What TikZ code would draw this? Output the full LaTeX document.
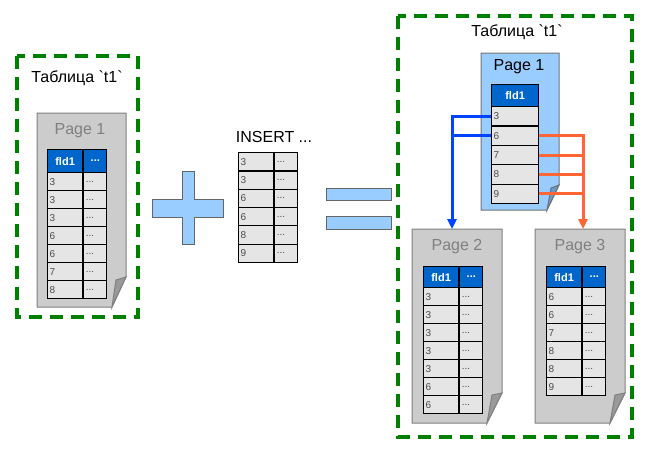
\documentclass[tikz,border=0pt]{standalone}
\usepackage{fontspec}
\setmainfont{Liberation Sans}[Ligatures=TeXOff]
\usetikzlibrary{arrows.meta}
\definecolor{boxgreen}{RGB}{0,128,0}
\definecolor{hdrblue}{RGB}{0,102,204}
\definecolor{pageblue}{RGB}{153,204,255}
\definecolor{foldblue}{RGB}{102,153,204}
\definecolor{arrblue}{RGB}{0,68,255}
\definecolor{arrorange}{RGB}{255,102,51}

\begin{document}
\begin{tikzpicture}[x=1pt, y=-1pt,
		tablebox/.style={draw=boxgreen, line width=3.5pt, dash pattern=on 13pt off 8pt},
		sheet/.style={draw=gray, fill=black!20, line width=1pt},
		bluesheet/.style={draw=black!55, fill=pageblue, line width=1pt},
		fold/.style={draw=gray, fill=black!40, line width=1pt},
		bluefold/.style={draw=black!55, fill=foldblue, line width=1pt},
		sign/.style={draw=black!60, fill=pageblue, line width=1pt},
		title/.style={font=\fontsize{16}{16}\selectfont},
		pagetitle/.style={title, text=black!50},
		cell/.style={draw=black, line width=1.2pt, fill=black!10, text=black!70, inner xsep=2pt, inner ysep=0pt,
			minimum height=18pt, anchor=north west, align=left, font=\fontsize{10}{10}\selectfont},
		hcell/.style={cell, fill=hdrblue, text=white, align=center, minimum height=22pt, font=\fontsize{11}{11}\selectfont\bfseries},
		colA/.style={text width=31pt},
		colB/.style={text width=19pt},
		wire/.style={line width=3pt},
		arrow/.style={wire, -{Triangle[width=9pt, length=10pt]}}]
	\useasboundingbox (0,0) rectangle (653,451);
	
	% Left table
	\draw[tablebox] (17,56) rectangle (138,317);
	\node[title] (ltitle) at (77,78) {Таблица `t1`};
	\draw[sheet] (37,113) -- (126,113) -- (126,277) -- (112,307) -- (37,307) -- cycle;
	\draw[fold] (126,277) -- (116,280) -- (112,307) -- cycle;
	\node[pagetitle] (lpage) at (80,131) {Page 1};
	\node[hcell, colA, minimum height=23pt] (lh1) at (47,149) {fld1};
	\node[hcell, colB, minimum height=23pt] (lh2) at (lh1.north east) {...};
	\foreach \v [count=\i] in {3,3,3,6,6,7,8} {
		\node[cell, colA] (l\i) at (47,{172+18*(\i-1)}) {\v};
		\node[cell, colB] (lx\i) at (l\i.north east) {...};
	}
	
	% Plus
	\draw[sign] (152,199) -- (182,199) -- (182,171) -- (194,171) -- (194,199) -- (223,199) -- (223,217)
		-- (194,217) -- (194,244) -- (182,244) -- (182,217) -- (152,217) -- cycle;
	
	% Inserted rows
	\node[title] (ins) at (274,137) {INSERT ...};
	\foreach \v [count=\i] in {3,3,6,6,8,9} {
		\node[cell, colA, minimum height=18.3pt] (n\i) at (238,{152+18.3*(\i-1)}) {\v};
		\node[cell, colB, minimum height=18.3pt] (nx\i) at (n\i.north east) {...};
	}
	
	% Equals
	\draw[sign] (326,188) rectangle (391,200);
	\draw[sign] (326,216) rectangle (391,229);
	
	% Right table
	\draw[tablebox] (398,16) rectangle (632,437);
	\node[title] (rtitle) at (517,32) {Таблица `t1`};
	
	% Page 1 (split)
	\draw[bluesheet] (481,53) -- (559,53) -- (559,185) -- (547,210) -- (481,210) -- cycle;
	\draw[bluefold] (559,185) -- (551,188) -- (547,210) -- cycle;
	\node[title] (rpage) at (519,67) {Page 1};
	\node[hcell, text width=43pt] (rh) at (491,84) {fld1};
	\foreach \v [count=\i] in {3,6,7,8,9}
		\node[cell, text width=43pt, minimum height=19.4pt] (r\i) at (491,{106+19.4*(\i-1)}) {\v};
	
	% Page 2
	\draw[sheet] (412,229) -- (502,229) -- (502,393) -- (487,423) -- (412,423) -- cycle;
	\draw[fold] (502,393) -- (492,395) -- (487,423) -- cycle;
	\node[pagetitle] (page2) at (457,247) {Page 2};
	\node[hcell, colA, minimum height=21pt] (ah1) at (423,266) {fld1};
	\node[hcell, colB, minimum height=21pt] (ah2) at (ah1.north east) {...};
	\foreach \v [count=\i] in {3,3,3,3,3,6,6} {
		\node[cell, colA] (a\i) at (423,{287+18*(\i-1)}) {\v};
		\node[cell, colB] (ax\i) at (a\i.north east) {...};
	}
	
	% Page 3
	\draw[sheet] (535,229) -- (625,229) -- (625,393) -- (610,423) -- (535,423) -- cycle;
	\draw[fold] (625,393) -- (615,395) -- (610,423) -- cycle;
	\node[pagetitle] (page3) at (580,247) {Page 3};
	\node[hcell, colA, minimum height=21pt] (bh1) at (546,266) {fld1};
	\node[hcell, colB, minimum height=21pt] (bh2) at (bh1.north east) {...};
	\foreach \v [count=\i] in {6,6,7,8,8,9} {
		\node[cell, colA] (b\i) at (546,{287+18*(\i-1)}) {\v};
		\node[cell, colB] (bx\i) at (b\i.north east) {...};
	}
	
	% Moves
	\coordinate (p2top) at (452,229);
	\coordinate (p3top) at (583,229);
	\draw[arrow, arrblue] (r1.west) -| (p2top);
	\draw[wire, arrblue] (r2.west) -- (r2.west -| p2top);
	\draw[arrow, arrorange] (r2.east) -| (p3top);
	\foreach \i in {3,4,5}
		\draw[wire, arrorange] (r\i.east) -- (r\i.east -| p3top);
\end{tikzpicture}
\end{document}
